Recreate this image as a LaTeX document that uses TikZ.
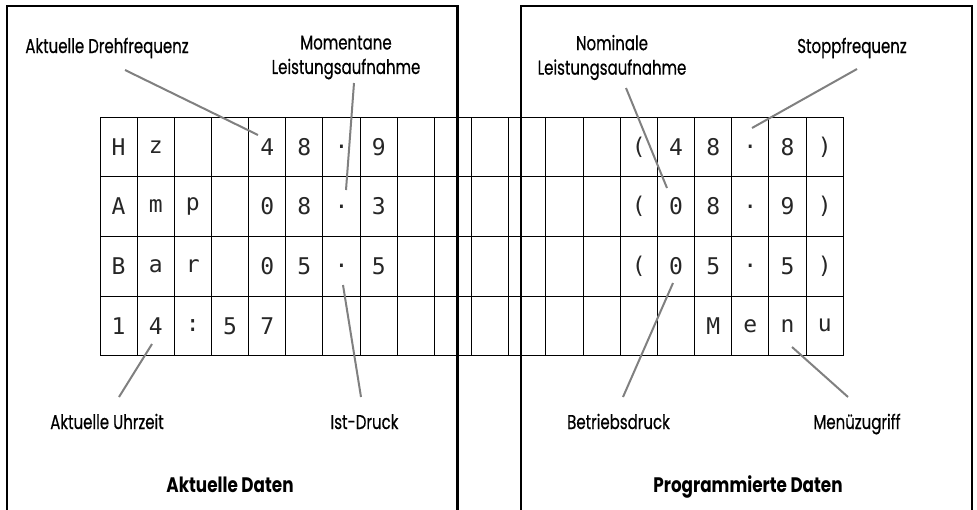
\documentclass[tikz,border=0pt]{standalone}
\usepackage{fontspec}
\setmainfont[FakeStretch=0.75,FakeBold=0.5]{Poppins}
\newfontfamily\ttlfont[FakeStretch=0.8]{Poppins}
\newfontfamily\lcdfont{DejaVu Sans Mono}
\begin{document}
\begin{tikzpicture}[x=1pt,y=-1pt,
  lbl/.style={font=\fontsize{20}{24.5}\selectfont, align=center, inner sep=0pt},
  lblb/.style={lbl, anchor=base},
  ttl/.style={font=\ttlfont\fontsize{21}{25}\selectfont\bfseries, inner sep=0pt, anchor=base},
  lead/.style={draw=black!50, line width=2pt},
  frame/.style={draw=black, line width=2.2pt},
  cell/.style={draw=black, line width=1pt, minimum width=37.165pt, minimum height=59.67pt, inner sep=0pt,
    font=\lcdfont\fontsize{23}{23}\selectfont, text=black!85}]
\useasboundingbox (0,0) rectangle (977,509);
% frames
\draw[frame] (7,515) -- (7,6) -- (457.5,6) -- (457.5,515);
\draw[frame] (520.8,515) -- (520.8,6) -- (972,6) -- (972,515);
% LCD grid
\foreach \row/\chars in {1/{H,z,{},{},4,8,.,9,{},{},{},{},{},{},{(},4,8,.,8,{)}},
                         2/{A,m,p,{},0,8,.,3,{},{},{},{},{},{},{(},0,8,.,9,{)}},
                         3/{B,a,r,{},0,5,.,5,{},{},{},{},{},{},{(},0,5,.,5,{)}},
                         4/{1,4,:,5,7,{},{},{},{},{},{},{},{},{},{},{},M,e,n,u}} {
  \foreach \ch [count=\c] in \chars {
    \node[cell] (c\row-\c) at ({100+37.165*(\c-0.5)}, {117+59.67*(\row-0.5)}) {\ch};
  }
}
% labels
\node[lblb] (drehf) at (107,53) {Aktuelle Drehfrequenz};
\node[lbl] (momlei) at (346,57.5) {Momentane\\Leistungsaufnahme};
\node[lbl] (nomlei) at (612,57.5) {Nominale\\Leistungsaufnahme};
\node[lblb] (stopp) at (852,53) {Stoppfrequenz};
\node[lblb] (uhr) at (107,429) {Aktuelle Uhrzeit};
\node[lblb] (ist) at (364.5,429) {Ist-Druck};
\node[lblb] (betr) at (618.5,429) {Betriebsdruck};
\node[lblb] (menu) at (857,429) {Menüzugriff};
\node[ttl] (aktd) at (230,492.7) {Aktuelle Daten};
\node[ttl] (progd) at (748,492.7) {Programmierte Daten};
% leader line ends
\coordinate (a1) at (125,70);  \coordinate (b1) at (258,135);
\coordinate (a2) at (354,83);  \coordinate (b2) at (346,190);
\coordinate (a3) at (626,88);  \coordinate (b3) at (667,188);
\coordinate (a4) at (857,69);  \coordinate (b4) at (752,128);
\coordinate (a5) at (119,397); \coordinate (b5) at (152,344);
\coordinate (a6) at (361,397); \coordinate (b6) at (343,285);
\coordinate (a7) at (623,397); \coordinate (b7) at (673,283);
\coordinate (a8) at (848,397); \coordinate (b8) at (792,347);
\foreach \i in {1,...,8} { \draw[lead] (a\i) -- (b\i); }
\end{tikzpicture}
\end{document}
